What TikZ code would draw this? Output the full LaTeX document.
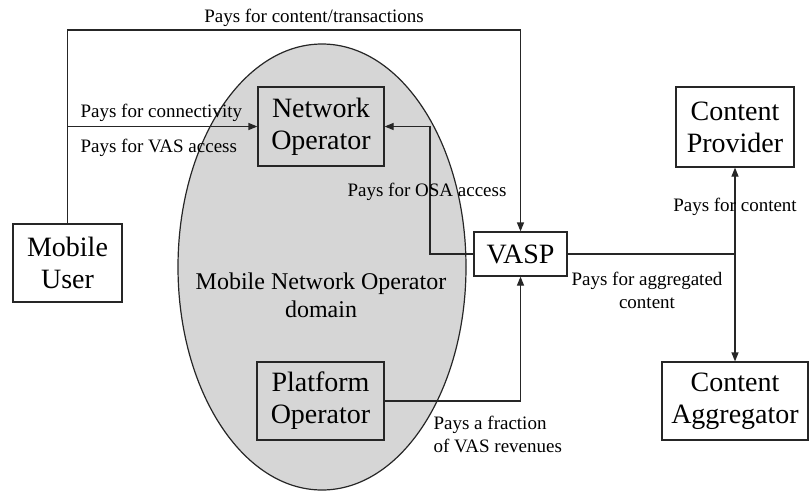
\documentclass[tikz,border=0pt]{standalone}
\usepackage{fontspec}
\setmainfont{Liberation Serif}
\usetikzlibrary{arrows.meta,shapes.geometric}
\begin{document}
\begin{tikzpicture}[x=1pt,y=-1pt,
  line width=1.2pt,
  boxnode/.style={draw=black!85, rectangle, inner sep=0pt, align=center,
     font=\fontsize{28}{32}\selectfont},
  lbl/.style={font=\fontsize{19}{23}\selectfont, inner sep=0pt, align=center},
  conn/.style={draw=black!85},
  arr/.style={draw=black!85, -{Triangle[length=9pt,width=7pt]}}
]
\useasboundingbox (0,0) rectangle (810,491);
% domain ellipse
\node[ellipse, draw=black!85, fill=black!16, minimum width=288pt, minimum height=446pt, inner sep=0pt] (dom) at (322,267) {};
\node[font=\fontsize{24}{28}\selectfont, align=center, inner sep=0pt] (domlbl) at (321,295) {Mobile Network Operator\\domain};
% boxes
\node[boxnode, minimum width=126pt, minimum height=79pt] (no) at (321,126.5) {Network\\Operator};
\node[boxnode, minimum width=127pt, minimum height=78pt] (po) at (320.5,401) {Platform\\Operator};
\node[boxnode, minimum width=109pt, minimum height=78pt] (mu) at (67.5,263) {Mobile\\User};
\node[boxnode, minimum width=93pt, minimum height=44pt] (vasp) at (520.5,254) {VASP};
\node[boxnode, minimum width=118pt, minimum height=80pt] (cp) at (735,127) {Content\\Provider};
\node[boxnode, minimum width=146pt, minimum height=78pt] (ca) at (735,401) {Content\\Aggregator};
% connectors
\coordinate (topl) at (67.5,30);
\draw[arr] (mu.north) -- (topl) -| (vasp.north);
\coordinate (j1) at (mu.north |- no.west);
\draw[arr] (j1) -- (no.west);
\coordinate (k1) at (430,254);
\draw[arr] (vasp.west) -- (k1) |- (no.east);
\draw[arr] (po.east) -| (vasp.south);
\coordinate (j2) at (cp.south |- vasp.east);
\draw[conn] (vasp.east) -- (j2);
\draw[arr] (j2) -- (cp.south);
\draw[arr] (j2) -- (ca.north);
% labels
\node[lbl] (l1) at (314,18) {Pays for content/transactions};
\node[lbl, anchor=west] (l2) at (80,113) {Pays for connectivity};
\node[lbl, anchor=west] (l3) at (80,148) {Pays for VAS access};
\node[lbl] (l4) at (427,192) {Pays for OSA access};
\node[lbl] (l5) at (735,207) {Pays for content};
\node[lbl] (l6) at (647,290.5) {Pays for aggregated\\content};
\node[lbl, anchor=west, align=left] (l7) at (433,434) {Pays a fraction\\of VAS revenues};
\end{tikzpicture}
\end{document}
